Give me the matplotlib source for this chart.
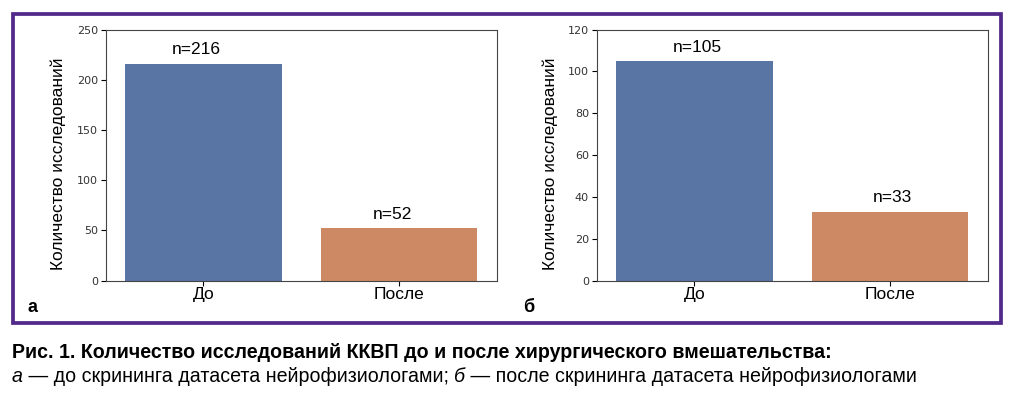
import matplotlib.pyplot as plt
from matplotlib.patches import Rectangle

categories = ['До', 'После']
counts_a = [216, 52]
counts_b = [105, 33]
ylim_a = 250
ylim_b = 120
ylabel = 'Количество исследований'
caption1 = 'Рис. 1. Количество исследований ККВП до и после хирургического вмешательства:'
caption2 = ' — до скрининга датасета нейрофизиологами; '
caption3 = ' — после скрининга датасета нейрофизиологами'

colors = ['#5975a4', '#cc8963']
lab_font = ['Liberation Sans', 'DejaVu Sans']
cap_font = ['Liberation Sans Narrow', 'Liberation Sans']

fig = plt.figure(figsize=(10.13, 3.97), dpi=100)

# purple frame around both panels
fig.patches.append(Rectangle((13 / 1013, 1 - 323 / 397), 988 / 1013, 309 / 397,
                             transform=fig.transFigure, fill=False,
                             edgecolor='#52298a', linewidth=2.7))

def panel(left, counts, ymax, step, letter, label_x, dx):
    ax = fig.add_axes([left, 0.2929, 0.386, 0.6327])
    x = list(range(len(categories)))
    ax.bar(x, counts, width=0.8, color=colors)
    ax.set_xlim(-0.5, 1.5)
    ax.set_ylim(0, ymax)
    ax.set_yticks(range(0, ymax + 1, step))
    ax.set_xticks(x)
    ax.set_xticklabels(categories, fontsize=12.5, family=lab_font)
    ax.tick_params(axis='y', labelsize=8, labelcolor='#333333', length=3.5, pad=2)
    ax.tick_params(axis='x', length=3.5, pad=1)
    for s in ax.spines.values():
        s.set_color('#444444')
    for xi, c in zip(x, counts):
        ax.annotate('n=%d' % c, (xi + dx, c), xytext=(0, 4.5), textcoords='offset points',
                    ha='center', va='bottom', fontsize=12.5, family=lab_font)
    fig.text(label_x / 1013, 1 - 164 / 397, ylabel, rotation=90, ha='center', va='center',
             fontsize=12.5, family=lab_font)
    fig.text(letter[1] / 1013, 1 - 308 / 397, letter[0], ha='center', va='center',
             fontsize=13, fontweight='bold', family=lab_font)
    return ax

panel(0.1043, counts_a, ylim_a, 50, ('а', 32), 58, -0.035)
panel(0.589, counts_b, ylim_b, 20, ('б', 529), 550, 0.015)

cs = 14.1
fig.text(12 / 1013, 1 - 352 / 397, caption1, ha='left', va='center', fontsize=cs,
         fontweight='bold', family=cap_font)
t = fig.text(12 / 1013, 1 - 376 / 397, 'а', ha='left', va='center', fontsize=cs,
             style='italic', family=cap_font)
fig.canvas.draw()
bb = t.get_window_extent()
t2 = fig.text(bb.x1 / 1013, 1 - 376 / 397, caption2, ha='left', va='center', fontsize=cs,
              family=cap_font)
bb = t2.get_window_extent()
t3 = fig.text(bb.x1 / 1013, 1 - 376 / 397, 'б', ha='left', va='center', fontsize=cs,
              style='italic', family=cap_font)
bb = t3.get_window_extent()
fig.text(bb.x1 / 1013, 1 - 376 / 397, caption3, ha='left', va='center', fontsize=cs,
         family=cap_font)

fig.savefig('out.png', dpi=100)
